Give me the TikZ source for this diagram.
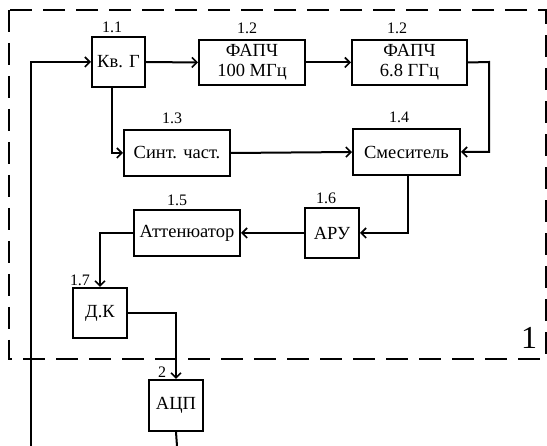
\documentclass[tikz,border=0pt]{standalone}
\usepackage{fontspec}
\setmainfont{Liberation Serif}
\usetikzlibrary{arrows.meta}
\begin{document}
\begin{tikzpicture}[x=1pt,y=-1pt,
  blk/.style={draw,line width=2pt,rectangle,inner sep=0pt,align=center,font=\fontsize{18.5}{20}\selectfont},
  lbl/.style={inner sep=0pt,font=\fontsize{16}{16}\selectfont},
  conn/.style={line width=2pt},
  arr/.style={conn,-{Straight Barb[length=5pt,width=10pt,line width=1.6pt]}},
  frame/.style={line width=1.3pt,dash pattern=on 22pt off 11pt}]
\useasboundingbox (0,0) rectangle (547,446);
% dashed frame
\draw[frame] (9,10) rectangle (546,359);
\node[inner sep=0pt,font=\fontsize{32}{32}\selectfont] (big) at (529,338) {1};
% blocks
\node[blk,minimum width=53pt,minimum height=50pt] (kv) at (118.5,62) {Кв. Г};
\node[blk,minimum width=106pt,minimum height=45pt] (f1) at (252,62.5) {ФАПЧ\\100 МГц};
\node[blk,minimum width=115pt,minimum height=45pt] (f2) at (409.5,62.5) {ФАПЧ\\6.8 ГГц};
\node[blk,minimum width=106pt,minimum height=46pt] (syn) at (177,153) {Синт. част.};
\node[blk,minimum width=107pt,minimum height=46pt] (mix) at (406.5,152) {Смеситель};
\node[blk,minimum width=54pt,minimum height=50pt] (aru) at (332,233) {АРУ};
\node[blk,minimum width=106pt,minimum height=46pt] (att) at (187,233) {Аттенюатор};
\node[blk,minimum width=54pt,minimum height=50pt] (dk) at (100,313) {Д.К};
\node[blk,minimum width=54pt,minimum height=51pt] (adc) at (176,405.5) {АЦП};
% labels
\node[lbl] (l11) at (112,27) {1.1};
\node[lbl] (l12a) at (247,28) {1.2};
\node[lbl] (l12b) at (397,28) {1.2};
\node[lbl] (l13) at (172,118) {1.3};
\node[lbl] (l14) at (399,117) {1.4};
\node[lbl] (l15) at (177,200) {1.5};
\node[lbl] (l16) at (326,198) {1.6};
\node[lbl] (l17) at (80,280) {1.7};
\node[lbl] (l2) at (162,372) {2};
% connectors
\coordinate (bl) at (31,446);
\coordinate (bc) at (177,446);
\coordinate (fr) at (489,62);
\draw[arr] (bl) |- (kv.west);
\draw[arr] (kv.east) -- (f1.west);
\draw[arr] (f1.east) -- (f2.west);
\draw[arr] (f2.east) -- (fr) |- (mix.east);
\draw[arr] ([xshift=-7pt]kv.south) |- (syn.west);
\draw[arr] (syn.east) -- (mix.west);
\draw[arr] ([xshift=1.5pt]mix.south) |- (aru.east);
\draw[arr] (aru.west) -- (att.east);
\draw[arr] (att.west) -| (dk.north);
\draw[arr] (dk.east) -| (adc.north);
\draw[conn] (adc.south) -- (bc);
\end{tikzpicture}
\end{document}
